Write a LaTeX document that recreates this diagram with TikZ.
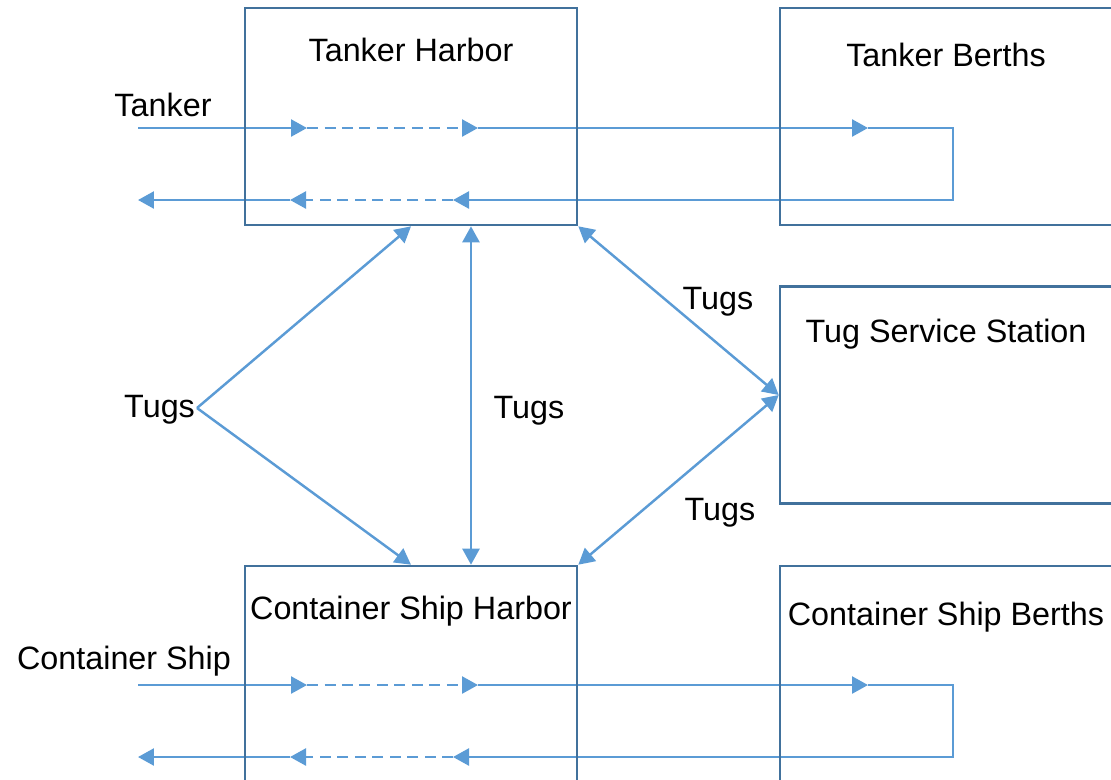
\documentclass[tikz,border=0pt]{standalone}
\usepackage{fontspec}
\setmainfont{Liberation Sans}
\usetikzlibrary{positioning, arrows.meta}
\definecolor{boxblue}{HTML}{41719C}
\definecolor{flowblue}{HTML}{5B9BD5}
\tikzset{
area/.style={draw=boxblue, line width=1.5pt, minimum width=6.64cm, minimum height=4.34cm}, % the five areas of the port
title/.style={anchor=base, inner sep=1pt, font=\fontsize{18.4}{22}\selectfont}, % every text
flow/.style={draw=flowblue, line width=1.4pt, -{Triangle[length=0.32cm,width=0.34cm]}}, % ship movements
gap/.style={dash pattern=on 0.22cm off 0.13cm}, % the part of a movement that waits
turn/.style={draw=flowblue, line width=0.8pt}, % turning round at the berth
tug/.style={draw=flowblue, line width=1.4pt, {Triangle[length=0.32cm,width=0.34cm]}-{Triangle[length=0.32cm,width=0.34cm]}},
}

\begin{document}
\begin{tikzpicture}[x=0.02cm, y=-0.02cm]
    \useasboundingbox (0,0) rectangle (1111,779);
    \clip (0,0) rectangle (1111,779);

    % ship lanes, drawn first so that the boxes lie over them
    \foreach \lane/\yin/\yout in {t/128/200, c/685/757} {
        \coordinate (\lane in)  at (138,\yin);
        \coordinate (\lane wait) at (307,\yin);
        \coordinate (\lane go)  at (478,\yin);
        \coordinate (\lane dock) at (868,\yin);
        \coordinate (\lane turn) at (953,\yin);
        \coordinate (\lane back) at (868,\yout);
        \coordinate (\lane ret) at (453,\yout);
        \coordinate (\lane leave) at (290,\yout);
        \coordinate (\lane out) at (138,\yout);
        \draw[flow] (\lane in) -- (\lane wait);
        \draw[flow, gap] (\lane wait) -- (\lane go);
        \draw[flow] (\lane go) -- (\lane dock);
        \draw[turn] (\lane dock) -- (\lane turn) |- (\lane back);
        \draw[flow] (\lane back) -- (\lane ret);
        \draw[flow, gap] (\lane ret) -- (\lane leave);
        \draw[flow] (\lane leave) -- (\lane out);
    }

    \node[area] (TH) at (411,116.5) {};
    \node[area] (TB) at (946,116.5) {};
    \node[area] (TS) at (946,395) {};
    \node[area] (CH) at (411,674.5) {};
    \node[area] (CB) at (946,674.5) {};

    \node[title] (THt) at ([yshift=-1.1cm]TH.north) {Tanker Harbor};
    \node[title] (TBt) at ([yshift=-1.2cm]TB.north) {Tanker Berths};
    \node[title] (TSt) at ([yshift=-1.14cm]TS.north) {Tug Service Station};
    \node[title] (CHt) at ([yshift=-1.1cm]CH.north) {Container Ship Harbor};
    \node[title] (CBt) at ([yshift=-1.22cm]CB.north) {Container Ship Berths};

    \node[title] (tanker) at (163,116) {Tanker};
    \node[title] (container) at (124,669) {Container Ship};

    % tugs moving between the areas
    \coordinate (apex) at (197,408);
    \node[title, anchor=east, left=0pt of apex, yshift=-0.04cm] (tugsL) {Tugs};
    \node[title] (tugsM) at (529,418) {Tugs};
    \node[title] (tugsU) at (718,309) {Tugs};
    \node[title] (tugsD) at (720,520) {Tugs};

    \draw[flow] (apex) -- (TH.south);
    \draw[flow] (apex) -- (CH.north);
    \draw[tug] ([xshift=1.2cm]TH.south) -- ([xshift=1.2cm]CH.north);
    \draw[tug] (TH.south east) -- (TS.west);
    \draw[tug] (CH.north east) -- (TS.west);
\end{tikzpicture}
\end{document}
